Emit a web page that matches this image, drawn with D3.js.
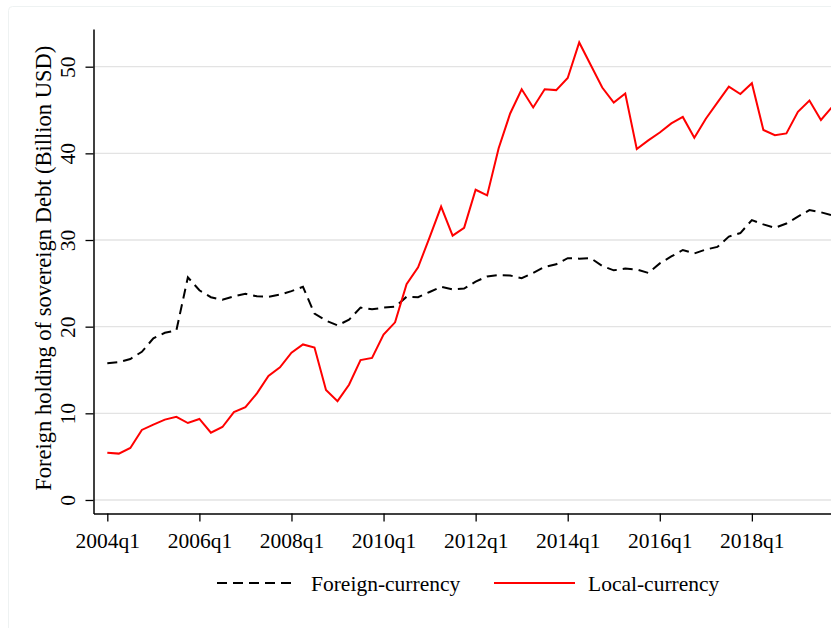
<!DOCTYPE html>
<meta charset="utf-8">
<script src="https://d3js.org/d3.v7.min.js"></script>
<style>
  body { margin: 0; background: #fff; }
  text { font-family: "Liberation Serif", "Times New Roman", serif; }
</style>
<body>
<div id="canvas"></div>
<script>

// quarters 2004q1 .. 2019q4
var startYear = 2004;
var nQuarters = 64;
var quarters = d3.range(nQuarters).map(function(i){
    return (startYear + Math.floor(i / 4)) + "q" + (i % 4 + 1);
});

// values (billion USD)
var foreignCurrency = [
    15.77, 15.9, 16.27, 17.1, 18.65, 19.3, 19.57, 25.7, 24.2, 23.4,
    23.1, 23.5, 23.8, 23.5, 23.45, 23.7, 24.1, 24.6, 21.5, 20.7,
    20.15, 20.8, 22.2, 22.0, 22.2, 22.3, 23.45, 23.4, 24.0, 24.6,
    24.3, 24.4, 25.2, 25.8, 25.95, 25.9, 25.6, 26.2, 26.9, 27.2,
    27.9, 27.85, 27.9, 27.0, 26.5, 26.7, 26.6, 26.2, 27.3, 28.1,
    28.85, 28.45, 28.9, 29.2, 30.4, 30.8, 32.3, 31.8, 31.4, 31.9,
    32.7, 33.45, 33.2, 32.85
];
var localCurrency = [
    5.46, 5.35, 6.0, 8.08, 8.7, 9.27, 9.6, 8.88, 9.35, 7.77,
    8.42, 10.15, 10.7, 12.3, 14.3, 15.3, 17.0, 17.95, 17.6, 12.7,
    11.4, 13.3, 16.15, 16.4, 19.1, 20.5, 24.9, 26.85, 30.3, 33.85,
    30.5, 31.4, 35.8, 35.15, 40.6, 44.6, 47.4, 45.3, 47.4, 47.3,
    48.7, 52.8, 50.2, 47.6, 45.85, 46.9, 40.5, 41.5, 42.4, 43.45,
    44.2, 41.8, 44.0, 45.85, 47.7, 46.85, 48.1, 42.7, 42.1, 42.3,
    44.8, 46.1, 43.85, 45.4
];

var yTicks = [0, 10, 20, 30, 40, 50];
var xTickLabels = ["2004q1", "2006q1", "2008q1", "2010q1", "2012q1", "2014q1", "2016q1", "2018q1"];
var seriesNames = ["Foreign-currency", "Local-currency"];

var width = 831, height = 628;
var fontSize = "21.5px";

var svg = d3.select("#canvas").append("svg")
    .attr("width", width)
    .attr("height", height);

// faint outer frame of the graph region
svg.append("rect")
    .attr("x", 8.5).attr("y", 6.5)
    .attr("width", 900).attr("height", 700)
    .attr("rx", 4)
    .attr("fill", "#fff")
    .attr("stroke", "#eef2f2");

var plot = {left: 93.5, top: 29, bottom: 513.5};

var x = d3.scaleLinear()
    .domain([-1.2, 63.2])
    .range([plot.left, plot.left + 64.4 * 11.51]);

var y = d3.scaleLinear()
    .domain([-1.56, 54.35])
    .range([plot.bottom, plot.top]);

// grid lines
svg.append("g")
    .selectAll("line")
    .data(yTicks)
    .join("line")
    .attr("x1", plot.left).attr("x2", width)
    .attr("y1", function(d){ return y(d); })
    .attr("y2", function(d){ return y(d); })
    .attr("stroke", "#e3e3e3")
    .attr("stroke-width", 1.3);

// y axis
var yAxis = svg.append("g")
    .attr("transform", "translate(" + plot.left + ",0)")
    .call(d3.axisLeft(y).tickValues(yTicks).tickSize(8).tickSizeOuter(0));
yAxis.select(".domain").attr("stroke-width", 1.5);
yAxis.selectAll(".tick line").attr("stroke-width", 1.3);
yAxis.selectAll(".tick text")
    .attr("x", null).attr("dy", null)
    .attr("transform", "translate(-18.5,0) rotate(-90)")
    .attr("text-anchor", "middle")
    .attr("fill", "#000")
    .style("font-size", fontSize)
    .style("font-family", "Liberation Serif");

// x axis
var xTickIdx = xTickLabels.map(function(q){ return quarters.indexOf(q); });
var xAxis = svg.append("g")
    .attr("transform", "translate(0," + plot.bottom + ")")
    .call(d3.axisBottom(x).tickValues(xTickIdx)
        .tickFormat(function(i){ return quarters[i]; })
        .tickSize(8).tickSizeOuter(0));
xAxis.select(".domain").attr("stroke-width", 1.5);
xAxis.selectAll(".tick line").attr("stroke-width", 1.3);
xAxis.selectAll(".tick text")
    .attr("y", 34.5).attr("dy", null)
    .attr("fill", "#000")
    .style("font-size", fontSize)
    .style("font-family", "Liberation Serif");

// y axis title
svg.append("text")
    .attr("transform", "translate(50.5," + ((plot.top + plot.bottom) / 2 - 3) + ") rotate(-90)")
    .attr("text-anchor", "middle")
    .style("font-size", "22.5px")
    .text("Foreign holding of sovereign Debt (Billion USD)");

// lines
var line = d3.line()
    .x(function(d, i){ return x(i); })
    .y(function(d){ return y(d); });

svg.append("path")
    .datum(foreignCurrency)
    .attr("d", line)
    .attr("fill", "none")
    .attr("stroke", "#000")
    .attr("stroke-width", 2)
    .attr("stroke-dasharray", "10,6");

svg.append("path")
    .datum(localCurrency)
    .attr("d", line)
    .attr("fill", "none")
    .attr("stroke", "#ff0000")
    .attr("stroke-width", 2);

// legend
var legend = svg.append("g");
legend.append("line")
    .attr("x1", 217).attr("x2", 297).attr("y1", 583).attr("y2", 583)
    .attr("stroke", "#000").attr("stroke-width", 2)
    .attr("stroke-dasharray", "10,6");
legend.append("text")
    .attr("x", 311).attr("y", 591)
    .style("font-size", fontSize)
    .text(seriesNames[0]);
legend.append("line")
    .attr("x1", 494).attr("x2", 575).attr("y1", 583).attr("y2", 583)
    .attr("stroke", "#ff0000").attr("stroke-width", 2);
legend.append("text")
    .attr("x", 588).attr("y", 591)
    .style("font-size", fontSize)
    .text(seriesNames[1]);

</script>
</body>
